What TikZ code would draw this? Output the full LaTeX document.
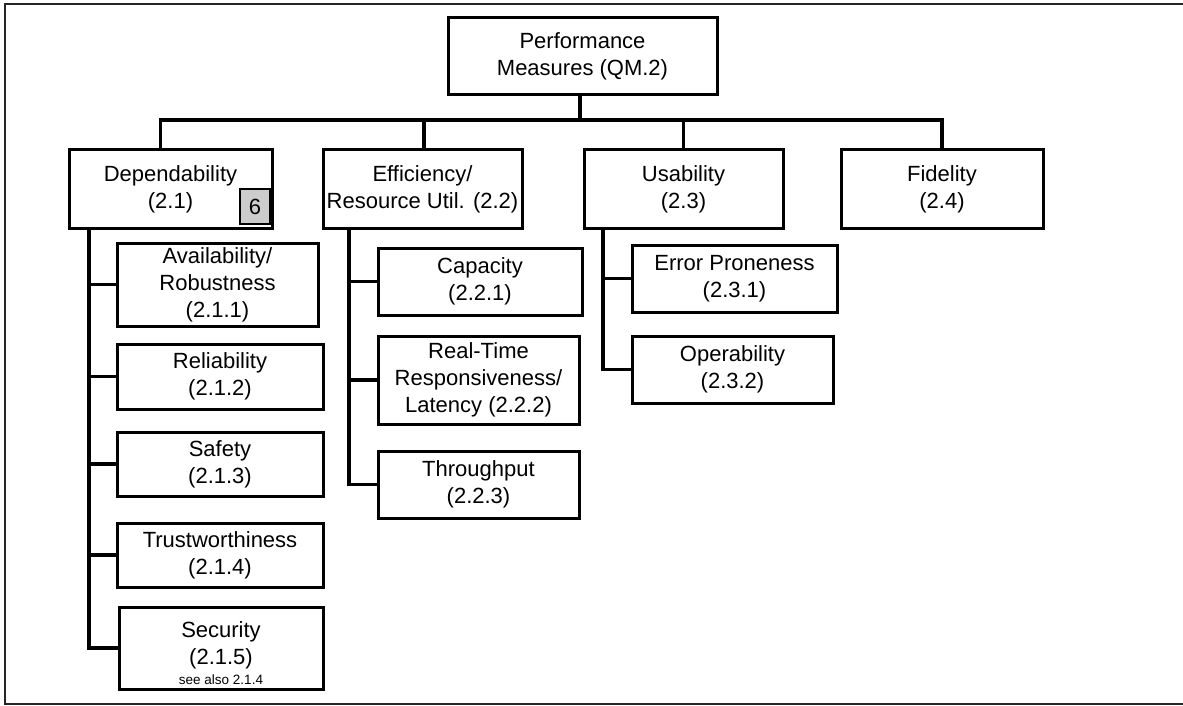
\documentclass[tikz,border=0pt]{standalone}
\usepackage{fontspec}
\setmainfont{Liberation Sans}
\usetikzlibrary{positioning,calc}

\begin{document}
\begin{tikzpicture}[x=1pt,y=-1pt,
    box/.style={rectangle,draw,line width=3pt,align=center,inner sep=0pt,font=\fontsize{22}{27}\selectfont},
    tag/.style={rectangle,draw,line width=2pt,fill=black!20,minimum width=30pt,minimum height=35pt,inner sep=0pt,font=\fontsize{22}{27}\selectfont},
    link/.style={line width=3.2pt}
]
    \useasboundingbox (0,0) rectangle (1183,706);
    \draw[line width=2pt,black!85] (1190,704) -| (5,4) -- (1190,4);

    \node[box,minimum width=269pt,minimum height=77pt] (pm) at (582.5,56.5) {Performance\\Measures (QM.2)};

    \node[box,minimum width=203pt,minimum height=78pt] (d) at (170.5,189) {Dependability\\(2.1)};
    \node[box,minimum width=199pt,minimum height=78pt] (e) at (422.5,189) {Efficiency/\\Resource Util. (2.2)};
    \node[box,minimum width=199pt,minimum height=78pt] (u) at (683.5,189) {Usability\\(2.3)};
    \node[box,minimum width=202pt,minimum height=78pt] (f) at (942,189) {Fidelity\\(2.4)};
    \node[tag] (six) at (255,206.5) {6};

    \node[box,minimum width=201pt,minimum height=83pt] (d1) at (217.5,284.5) {Availability/\\Robustness\\(2.1.1)};
    \node[box,minimum width=206pt,minimum height=65pt] (d2) at (220,376.5) {Reliability\\(2.1.2)};
    \node[box,minimum width=206pt,minimum height=64pt] (d3) at (220,464) {Safety\\(2.1.3)};
    \node[box,minimum width=206pt,minimum height=64pt] (d4) at (220,555) {Trustworthiness\\(2.1.4)};
    \node[box,minimum width=204pt,minimum height=82pt] (d5) at (221,648) {\rule{0pt}{26pt}Security\\(2.1.5)\\[-7pt]{\fontsize{13.5}{15}\selectfont see also 2.1.4}};

    \node[box,minimum width=204pt,minimum height=67pt] (e1) at (480,281.5) {Capacity\\(2.2.1)};
    \node[box,minimum width=201pt,minimum height=88pt] (e2) at (478.5,380) {Real-Time\\Responsiveness/\\Latency (2.2.2)};
    \node[box,minimum width=201pt,minimum height=67pt] (e3) at (478.5,484.5) {Throughput\\(2.2.3)};

    \node[box,minimum width=205pt,minimum height=67pt] (u1) at (734.5,278.5) {Error Proneness\\(2.3.1)};
    \node[box,minimum width=201pt,minimum height=67pt] (u2) at (732.5,369.5) {Operability\\(2.3.2)};

    \coordinate (bus) at (580,120);
    \draw[link] (pm.south -| bus) -- (bus);
    \draw[link] ([xshift=-10pt]d.north) |- (bus) -| (f.north);
    \draw[link] ([xshift=1.5pt]e.north) -- ([xshift=1.5pt]e.north |- bus);
    \draw[link] (u.north) -- (u.north |- bus);

    \coordinate (dt) at (89,228);
    \coordinate (et) at (349,228);
    \coordinate (ut) at (603,228);
    \draw[link] (dt) |- (d5.west);
    \foreach \c in {d1,d2,d3,d4} \draw[link] (dt |- \c.west) -- (\c.west);
    \draw[link] (et) |- (e3.west);
    \foreach \c in {e1,e2} \draw[link] (et |- \c.west) -- (\c.west);
    \draw[link] (ut) |- (u2.west);
    \draw[link] (ut |- u1.west) -- (u1.west);
\end{tikzpicture}
\end{document}
